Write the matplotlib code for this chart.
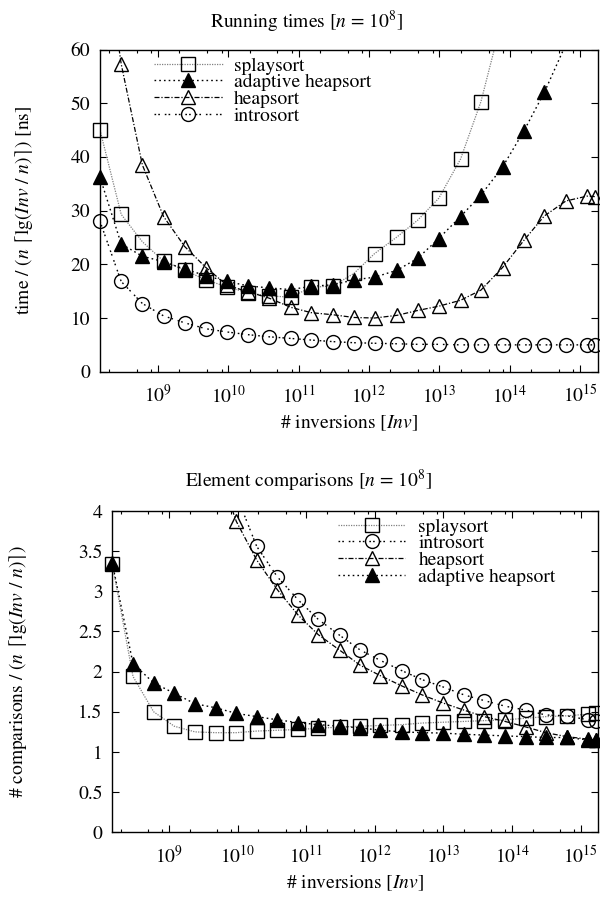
import numpy as np
import matplotlib
matplotlib.use("Agg")
import matplotlib.pyplot as plt
from matplotlib.lines import Line2D
from matplotlib.ticker import LogLocator, MultipleLocator, NullLocator, FormatStrFormatter

plt.rcParams['font.family'] = ['STIXGeneral', 'DejaVu Serif']
plt.rcParams['mathtext.fontset'] = 'stix'
plt.rcParams['font.size'] = 14

'''_____Data (read off the picture)_____'''
# number of inversions, one value per measured point
inversions = [1.5e8, 3.0e8, 6.0e8, 1.2e9, 2.4e9, 4.8e9, 9.6e9, 1.9e10, 3.8e10,
              7.7e10, 1.5e11, 3.1e11, 6.1e11, 1.2e12, 2.5e12, 4.9e12, 9.8e12,
              2.0e13, 3.9e13, 7.9e13, 1.6e14, 3.1e14, 6.3e14, 1.26e15, 1.65e15]

# running times [ns], normalised
splay_time = [45.0, 29.3, 24.2, 20.6, 18.9, 17.1, 15.8, 14.7, 14.1, 13.9, 15.7,
              16.0, 18.3, 22.0, 25.1, 28.2, 32.3, 39.6, 50.3, 66.0, 88.0]
adaptive_time = [36.2, 23.8, 21.5, 20.5, 19.1, 17.9, 16.8, 16.0, 15.6, 15.3, 15.9,
                 16.2, 17.1, 17.6, 18.9, 21.1, 24.8, 28.9, 32.9, 38.1, 44.9, 52.0,
                 61.0, 72.0]
heap_time = [85.0, 57.3, 38.5, 28.9, 23.3, 19.4, 16.1, 14.9, 13.7, 12.0, 11.0,
             10.6, 10.1, 10.0, 10.5, 11.4, 12.2, 13.3, 15.2, 19.4, 24.5, 29.0,
             31.8, 32.7, 32.6]
intro_time = [28.0, 16.8, 12.7, 10.4, 9.1, 8.0, 7.4, 6.9, 6.5, 6.2, 5.9, 5.6,
              5.4, 5.3, 5.2, 5.1, 5.1, 5.0, 5.0, 5.0, 5.0, 5.0, 5.0, 5.0, 5.0]

# element comparisons, normalised
splay_cmp = [3.34, 1.94, 1.50, 1.32, 1.25, 1.24, 1.24, 1.26, 1.27, 1.28, 1.295,
             1.31, 1.32, 1.33, 1.34, 1.36, 1.37, 1.38, 1.39, 1.40, 1.42, 1.44,
             1.45, 1.47, 1.48]
adaptive_cmp = [3.35, 2.10, 1.86, 1.73, 1.60, 1.55, 1.48, 1.44, 1.40, 1.365, 1.34,
                1.32, 1.30, 1.27, 1.25, 1.24, 1.235, 1.22, 1.21, 1.20, 1.19, 1.18,
                1.18, 1.15, 1.15]
# these two start at the 6th inversion value (earlier points are off the chart)
heap_cmp = [4.6, 3.87, 3.39, 3.02, 2.70, 2.46, 2.265, 2.08, 1.95, 1.82, 1.71,
            1.61, 1.52, 1.44, 1.38, 1.31, 1.24, 1.19, 1.16, 1.15]
intro_cmp = [4.9, 4.2, 3.56, 3.18, 2.89, 2.65, 2.45, 2.27, 2.14, 2.01, 1.90,
             1.81, 1.71, 1.64, 1.57, 1.52, 1.46, 1.45, 1.40, 1.38]

'''_____Styles_____'''
styles = {
    'splaysort': dict(color='0.5', lw=0.9, dashes=(1, 1), marker='s', ms=10.5,
                      mfc='none'),
    'adaptive heapsort': dict(color='k', lw=1.0, dashes=(1.2, 2.2), marker='^',
                              ms=10, mfc='k'),
    'heapsort': dict(color='k', lw=0.9, dashes=(4, 1.5, 1, 1.5), marker='^',
                     ms=10, mfc='none'),
    'introsort': dict(color='k', lw=1.0, dashes=(1.2, 1.5, 1.2, 3.5), marker='o',
                      ms=10, mfc='none'),
}


def draw(ax, x, y, name, ymax):
    st = styles[name]
    x = np.array(x)
    y = np.array(y)
    ax.plot(x, y, color=st['color'], lw=st['lw'], dashes=st['dashes'], zorder=2)
    inside = y <= ymax
    ax.plot(x[inside], y[inside], ls='none', marker=st['marker'], ms=st['ms'],
            mfc=st['mfc'], mec='k', mew=1.0, clip_on=False, zorder=3)


def handle(name):
    st = styles[name]
    return Line2D([], [], color=st['color'], lw=st['lw'], dashes=st['dashes'],
                  marker=st['marker'], ms=st['ms'], mfc=st['mfc'], mec='k', mew=1.0)


def style_axes(ax):
    ax.set_xscale('log')
    ax.set_xlim(1.5e8, 1.8e15)
    ax.xaxis.set_major_locator(LogLocator(base=10, subs=(1.0,)))
    ax.xaxis.set_minor_locator(LogLocator(base=10, subs=(2.0, 5.0, 8.0)))
    ax.yaxis.set_minor_locator(NullLocator())
    ax.tick_params(which='both', direction='in', top=True, right=True, labelsize=14)
    ax.tick_params(which='major', length=5, width=0.8)
    ax.tick_params(which='minor', length=2.5, width=0.8)
    ax.tick_params(axis='x', pad=9)
    ax.tick_params(axis='y', pad=7)
    for s in ax.spines.values():
        s.set_linewidth(1.0)
    ax.set_xlabel(r'# inversions [$Inv$]', fontsize=14, labelpad=5)


fig = plt.figure(figsize=(6, 9.02), dpi=100)

ax0 = fig.add_axes([0.1667, 0.5879, 0.830, 0.3572])
draw(ax0, inversions[:len(splay_time)], splay_time, 'splaysort', 60)
draw(ax0, inversions[:len(adaptive_time)], adaptive_time, 'adaptive heapsort', 60)
draw(ax0, inversions, heap_time, 'heapsort', 60)
draw(ax0, inversions, intro_time, 'introsort', 60)
style_axes(ax0)
ax0.set_ylim(0, 60)
ax0.yaxis.set_major_locator(MultipleLocator(10))
ax0.set_ylabel(r'time / ($n$ ⌈lg($Inv$ / $n$)⌉) [ns]', fontsize=14)
ax0.yaxis.set_label_coords(-0.13, 0.5)
fig.text(306 / 600, 1 - 22 / 902, r'Running times [$n$ = 10$^8$]', fontsize=14,
         ha='center', va='center')
names0 = ['splaysort', 'adaptive heapsort', 'heapsort', 'introsort']
ax0.legend([handle(n) for n in names0], names0, loc='upper left',
           bbox_to_anchor=(0.108, 0.977), frameon=False, handlelength=3.55,
           labelspacing=-0.05, fontsize=14, borderaxespad=0, borderpad=0,
           handletextpad=0.57)

ax1 = fig.add_axes([0.1872, 0.0773, 0.810, 0.3562])
draw(ax1, inversions, splay_cmp, 'splaysort', 4)
draw(ax1, inversions[5:], intro_cmp, 'introsort', 4)
draw(ax1, inversions[5:], heap_cmp, 'heapsort', 4)
draw(ax1, inversions, adaptive_cmp, 'adaptive heapsort', 4)
style_axes(ax1)
ax1.set_ylim(0, 4)
ax1.yaxis.set_major_locator(MultipleLocator(0.5))
ax1.yaxis.set_major_formatter(FormatStrFormatter('%g'))
ax1.set_ylabel(r'# comparisons / ($n$ ⌈lg($Inv$ / $n$)⌉)', fontsize=14)
ax1.yaxis.set_label_coords(-0.172, 0.5)
fig.text(308 / 600, 1 - 481 / 902, r'Element comparisons [$n$ = 10$^8$]', fontsize=14,
         ha='center', va='center')
names1 = ['splaysort', 'introsort', 'heapsort', 'adaptive heapsort']
ax1.legend([handle(n) for n in names1], names1, loc='upper left',
           bbox_to_anchor=(0.465, 0.978), frameon=False, handlelength=3.45,
           labelspacing=-0.05, fontsize=14, borderaxespad=0, borderpad=0,
           handletextpad=0.67)

fig.savefig('out.png', dpi=100)
